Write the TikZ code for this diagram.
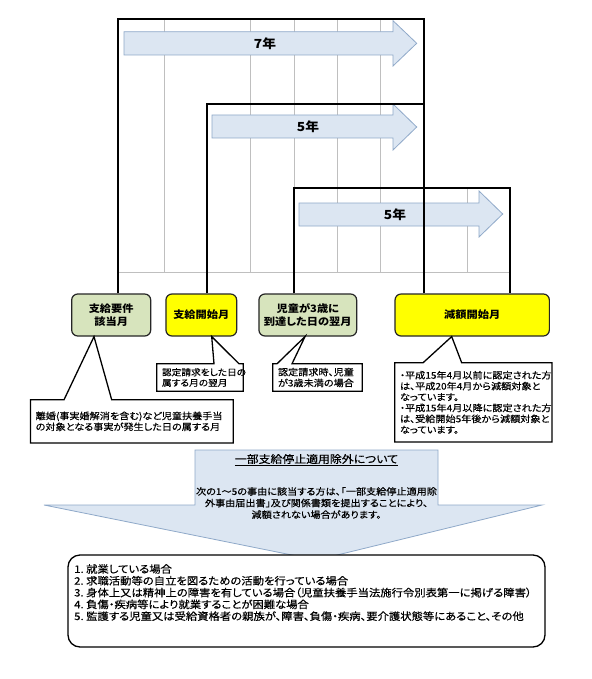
\documentclass[tikz,border=0pt]{standalone}
\usepackage{fontspec}
\setmainfont{Noto Sans CJK JP}[RawFeature={+palt},FakeStretch=1.1,UprightFeatures={FakeBold=0.35}]
\usetikzlibrary{calc}
\definecolor{arrfill}{HTML}{DCE6F2}
\definecolor{arrline}{HTML}{8FA9C9}
\definecolor{grn}{HTML}{D7E4BD}
\definecolor{ylw}{HTML}{FFFF00}
\definecolor{gridc}{HTML}{BFBFBF}
\begin{document}
\begin{tikzpicture}[x=1pt,y=-1pt,
  frame/.style={line width=2pt,black,line join=miter},
  gridl/.style={gridc,line width=0.8pt},
  blockarr/.style={fill=arrfill,draw=arrline,line width=0.8pt,line join=miter},
  arrlabel/.style={font=\fontsize{12.5}{14}\selectfont\bfseries,inner sep=0pt},
  keybox/.style={draw=black!85,line width=1.2pt,rounded corners=6pt,minimum height=42pt,align=center,inner sep=0pt,font=\fontsize{10.2}{13}\selectfont\bfseries},
  notebox/.style={inner ysep=0pt,inner xsep=5pt,align=left,font=\fontsize{9.2}{10.9}\selectfont},
  callout/.style={draw=black,line width=1.3pt,line join=miter},
  bigtext/.style={inner sep=0pt,align=center},
]
\fill[white] (0,0) rectangle (591,679);
\useasboundingbox (0,0) rectangle (591,679);

% grid
\foreach \x in {164.7,250.7,294,337.3,380.7} \draw[gridl] (\x,19) -- (\x,272);
\draw[gridl] (467.3,188) -- (467.3,272);
\draw[gridl] (118,272) -- (510,272);

% block arrows
\draw[blockarr] (124,31.7) -- (393,31.7) -- (393,20.7) -- (416.7,43.3) -- (393,66) -- (393,55) -- (124,55) -- cycle;
\draw[blockarr] (212,115) -- (393,115) -- (393,104) -- (416.7,127) -- (393,150) -- (393,138) -- (212,138) -- cycle;
\draw[blockarr] (299,203) -- (479,203) -- (479,191) -- (502.7,214) -- (479,237) -- (479,226) -- (299,226) -- cycle;
\node[arrlabel] (y7) at (265,44) {7年};
\node[arrlabel] (y5a) at (308,127) {5年};
\node[arrlabel] (y5b) at (395,215) {5年};

% key nodes
\node[keybox,fill=grn,minimum width=79pt] (n1) at (111.2,315) {支給要件\\該当月};
\node[keybox,fill=ylw,minimum width=70.7pt] (n2) at (201.3,315) {支給開始月};
\node[keybox,fill=grn,minimum width=97.7pt] (n3) at (307.8,315) {児童が3歳に\\到達した日の翌月};
\node[keybox,fill=ylw,minimum width=154.3pt] (n4) at (472.2,315) {減額開始月};

% frames
\draw[frame] (118,19 |- n1.north) -- (118,19) -- (424,19) -- (424,19 |- n4.north);
\draw[frame] (207,104 |- n2.north) -- (207,104) -- (424,104);
\draw[frame] (294,188 |- n3.north) -- (294,188) -- (510,188) -- (510,188 |- n4.north);

% callouts
\node[notebox,text width=192.3pt,minimum height=42.7pt] (cA) at (131.85,421.35) {離婚(事実婚解消を含む)など児童扶養手当\\の対象となる事実が発生した日の属する月};
\draw[callout] (cA.north west) -- (64,0 |- cA.north) -- (94,0 |- n1.south) -- (111.7,0 |- cA.north) -- (cA.north east) -- (cA.south east) -- (cA.south west) -- cycle;

\node[notebox,text width=76pt,minimum height=27pt,font=\fontsize{8.8}{10.5}\selectfont] (cB) at (200,377.5) {認定請求をした日の\\属する月の翌月};
\draw[callout] (cB.north west) -- (214,0 |- cB.north) -- (211.7,0 |- n2.south) -- (239,0 |- cB.north) -- (cB.north east) -- (cB.south east) -- (cB.south west) -- cycle;

\node[notebox,text width=79pt,minimum height=27pt] (cC) at (317.5,377.5) {認定請求時、児童\\が3歳未満の場合};
\draw[callout] (cC.north west) -- (277,0 |- cC.north) -- (305,0 |- n3.south) -- (292,0 |- cC.north) -- (cC.north east) -- (cC.south east) -- (cC.south west) -- cycle;

\node[notebox,text width=146.7pt,minimum height=78.7pt] (cD) at (473.35,402.35) {・平成15年4月以前に認定された方\\は、平成20年4月から減額対象と\\なっています。\\・平成15年4月以降に認定された方\\は、受給開始5年後から減額対象と\\なっています。};
\draw[callout] (cD.north west) -- (423,0 |- cD.north) -- (451.7,0 |- n4.south) -- (461.7,0 |- cD.north) -- (cD.north east) -- (cD.south east) -- (cD.south west) -- cycle;

% big down arrow
\draw[blockarr] (195,450) -- (438,450) -- (438,505) -- (542,505) -- (316.7,560) -- (44,505) -- (195,505) -- cycle;
\node[bigtext,font=\fontsize{10.8}{13}\selectfont] (hd) at (316.5,460) {\underline{一部支給停止適用除外について}};
\node[bigtext,font=\fontsize{9.2}{11.6}\selectfont] (bd) at (316.5,503) {次の1～5の事由に該当する方は、「一部支給停止適用除\\外事由届出書」及び関係書類を提出することにより、\\減額されない場合があります。};

% bottom list box
\node[draw=black,line width=1.3pt,rounded corners=12pt,fill=white,minimum width=477pt,minimum height=92pt,inner sep=0pt] (lb) at (306.5,601) {};
\node[anchor=north west,align=left,inner sep=0pt,font=\fontsize{10.3}{11.8}\selectfont] (lt) at (74,564) {1.\ 就業している場合\\2.\ 求職活動等の自立を図るための活動を行っている場合\\3.\ 身体上又は精神上の障害を有している場合（児童扶養手当法施行令別表第一に掲げる障害）\\4.\ 負傷・疾病等により就業することが困難な場合\\5.\ 監護する児童又は受給資格者の親族が、障害、負傷・疾病、要介護状態等にあること、その他};
\end{tikzpicture}
\end{document}
